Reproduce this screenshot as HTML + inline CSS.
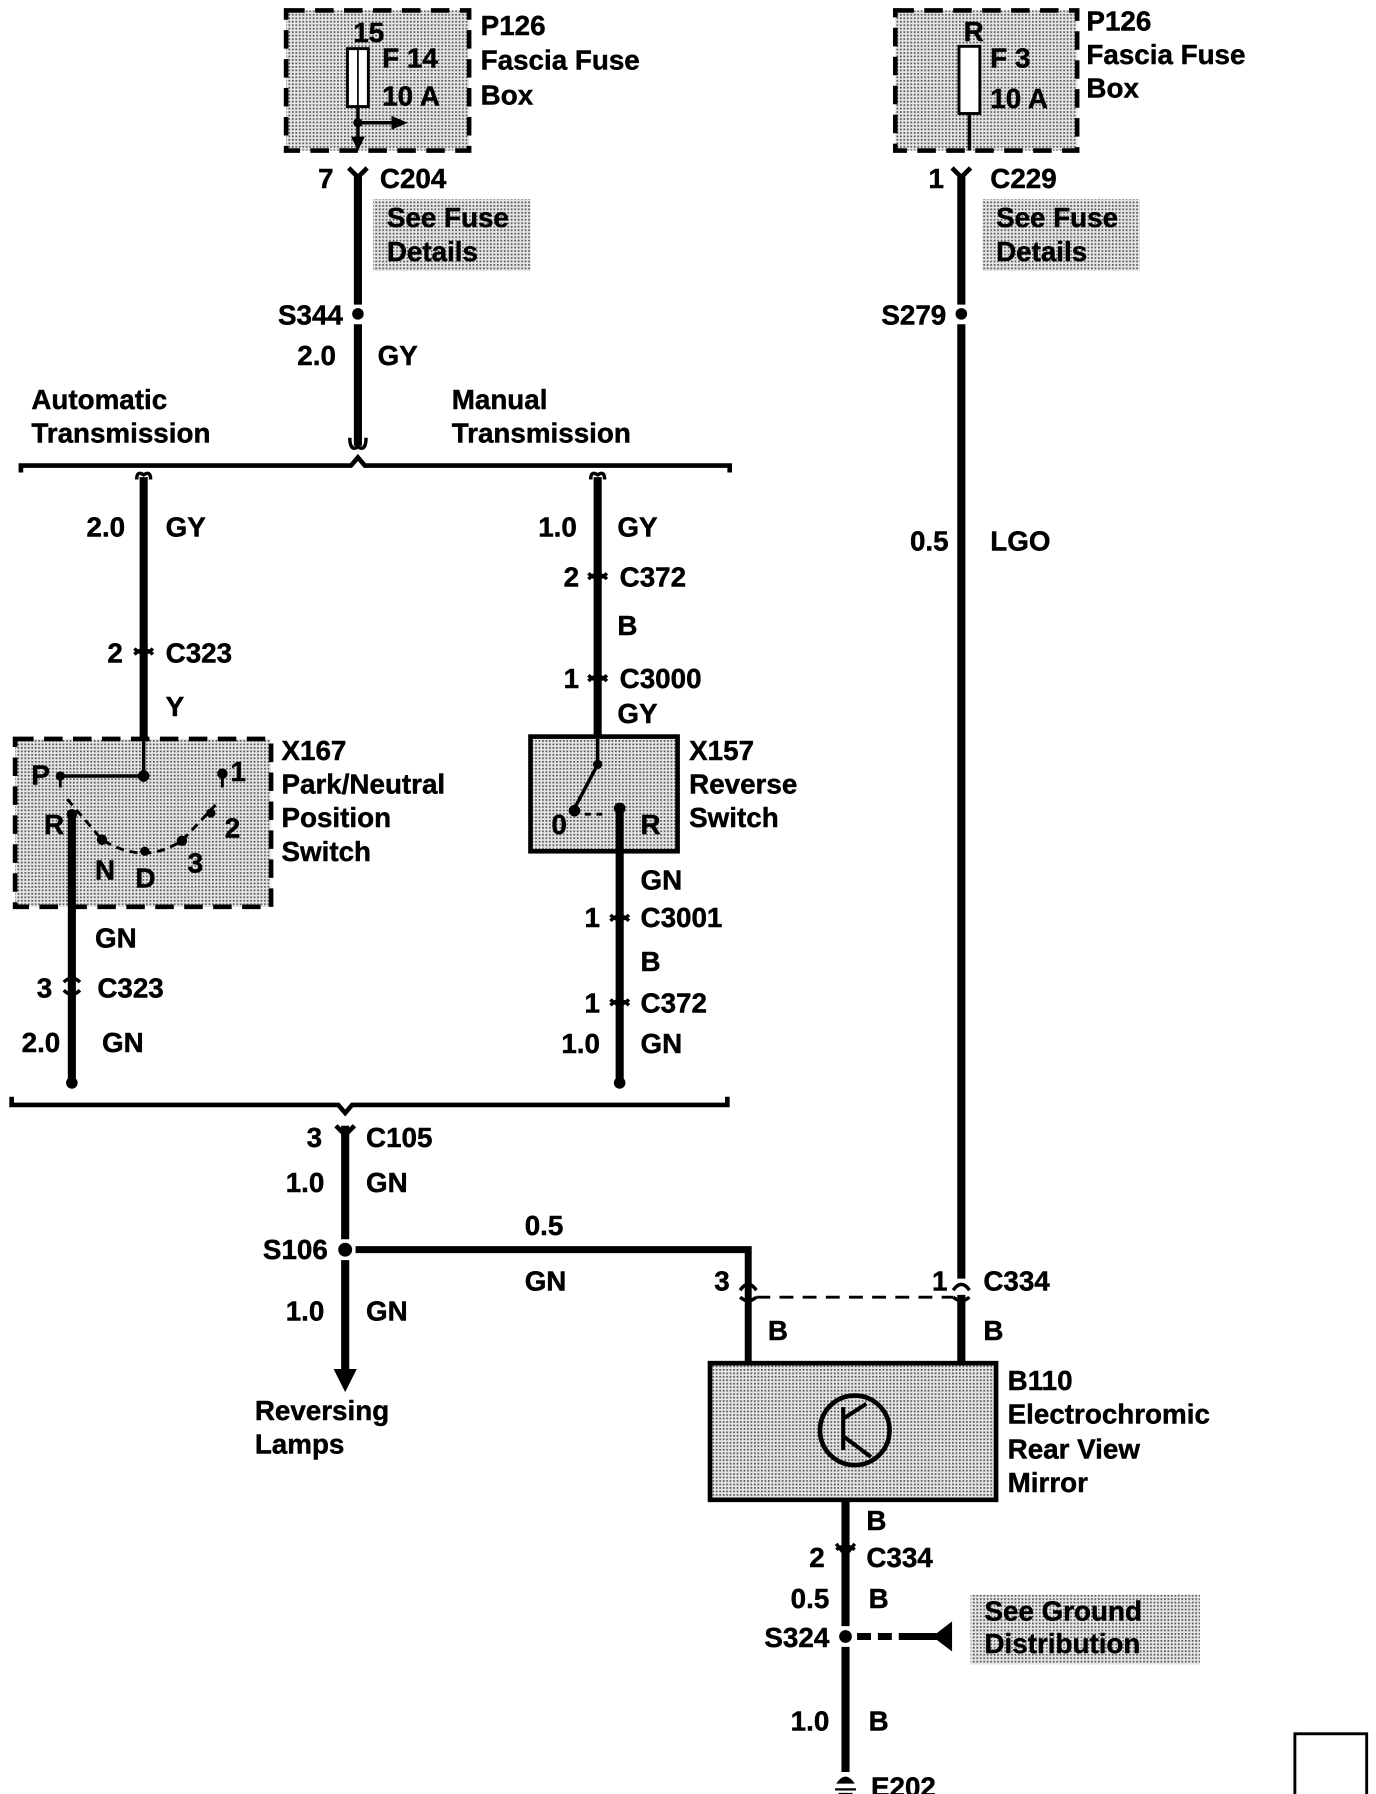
<!DOCTYPE html>
<html><head><meta charset="utf-8"><style>
html,body{margin:0;padding:0;background:#fff;}
svg{display:block;}
text{font-family:"Liberation Sans",Arial,sans-serif;font-weight:bold;font-size:24px;fill:#000;stroke:#000;stroke-width:0.4;dominant-baseline:central;}
.r{text-anchor:end;}
</style></head><body>
<svg width="1376" height="1794" viewBox="0 0 1188 1549" xmlns="http://www.w3.org/2000/svg">
<defs>
<pattern id="dots" width="3" height="3" patternUnits="userSpaceOnUse">
<rect width="3" height="3" fill="#e6e6e6"/><rect width="1.5" height="1.5" fill="#555"/>
</pattern>
</defs>
<g stroke="#000" fill="none">
<rect x="247" y="9" width="158" height="121" fill="url(#dots)" stroke-width="4" stroke-dasharray="16,9"/>
<rect x="300" y="42" width="18" height="50" fill="#fff" stroke-width="2.5"/>
<line x1="309" y1="42" x2="309" y2="92" stroke-width="1.5"/>
<line x1="309" y1="92" x2="309" y2="128" stroke-width="3"/>
<line x1="309" y1="106" x2="340" y2="106" stroke-width="3"/>
<rect x="773" y="9" width="157" height="121" fill="url(#dots)" stroke-width="4" stroke-dasharray="16,9"/>
<rect x="828" y="40" width="18" height="58" fill="#fff" stroke-width="2.5"/>
<line x1="837" y1="98" x2="837" y2="130" stroke-width="3"/>
<rect x="322" y="172" width="136" height="62" fill="url(#dots)" stroke="none"/>
<rect x="848" y="172" width="136" height="62" fill="url(#dots)" stroke="none"/>
<rect x="838" y="1377" width="198" height="60" fill="url(#dots)" stroke="none"/>
<path d="M309 152V263 M309 280V385" stroke-width="7"/>
<path d="M301 145L309 153L317 145" stroke-width="4"/>
<path d="M302 378q0 12 7 8q7 4 7-8" stroke-width="3"/>
<path d="M830 152V263 M830 280V1104 M830 1118V1178" stroke-width="7"/>
<path d="M822 145L830 153L838 145" stroke-width="4"/>
<path d="M18 408V402H303L309 395L315 402H630V408" stroke-width="4"/>
<path d="M124 412V640" stroke-width="7"/>
<path d="M118 414q0-8 6-4q6-4 6 4" stroke-width="3"/>
<path d="M116 565q8-8 16 0 M116 560q8 8 16 0" stroke-width="3"/>
<rect x="13" y="638" width="221" height="145" fill="url(#dots)" stroke-width="4" stroke-dasharray="16,9"/>
<line x1="124" y1="640" x2="124" y2="670" stroke-width="3"/>
<line x1="52" y1="670" x2="124" y2="670" stroke-width="3"/>
<path d="M52 670V680 M192 668V680" stroke-width="2.5"/>
<path d="M58 690L88 725Q125 748 158 725L186 695" stroke-width="2.5" stroke-dasharray="7,5"/>
<path d="M62 700V935" stroke-width="7"/>
<path d="M55 848q7-7 14 0 M55 855q7 7 14 0" stroke-width="3"/>
<path d="M516 412V636" stroke-width="7"/>
<path d="M510 414q0-8 6-4q6-4 6 4" stroke-width="3"/>
<path d="M508 500q8-8 16 0 M508 495q8 8 16 0" stroke-width="3"/>
<path d="M508 588q8-8 16 0 M508 583q8 8 16 0" stroke-width="3"/>
<rect x="458" y="636" width="127" height="99" fill="url(#dots)" stroke-width="4"/>
<path d="M516 638V660L496 698" stroke-width="3"/>
<path d="M505 703H525" stroke-width="2.5" stroke-dasharray="5,5"/>
<path d="M535 700V935" stroke-width="7"/>
<path d="M527 795q8-8 16 0 M527 790q8 8 16 0" stroke-width="3"/>
<path d="M527 868q8-8 16 0 M527 863q8 8 16 0" stroke-width="3"/>
<path d="M10 947V954H292L298 961L304 954H628V947" stroke-width="4"/>
<path d="M298 972V1070 M298 1088V1185" stroke-width="7"/>
<path d="M290 972L298 980L306 972" stroke-width="4"/>
<path d="M307 1079H646V1178" stroke-width="6"/>
<path d="M639 1114q7-10 14 0 M639 1120q7 6 14 0" stroke-width="3"/>
<path d="M823 1114q7-10 14 0 M823 1120q7 6 14 0" stroke-width="3"/>
<path d="M653 1120H823" stroke-width="2.5" stroke-dasharray="12,8"/>
<rect x="613" y="1177" width="247" height="118" fill="url(#dots)" stroke-width="4"/>
<circle cx="738" cy="1235" r="30" stroke-width="4" fill="none"/>
<path d="M728 1215V1252 M728 1225L748 1212 M728 1240L752 1258" stroke-width="3.5"/>
<path d="M730 1295V1404 M730 1422V1530" stroke-width="7"/>
<path d="M722 1333l8 10l8-10 M722 1338q8-6 16 0" stroke-width="3"/>
<path d="M740 1413H800" stroke-width="6" stroke-dasharray="12,6"/>
<path d="M780 1413H810" stroke-width="6"/>
<path d="M721 1545H739 M724 1549H736" stroke-width="2"/>
<rect x="1118" y="1497" width="62" height="63" stroke-width="2.5"/>
</g>
<g fill="#000">
<circle cx="309" cy="106" r="4"/>
<path d="M338 100L352 106L338 112Z"/>
<path d="M303 118L309 130L315 118Z"/>
<circle cx="309" cy="271" r="5"/>
<circle cx="830" cy="271" r="5"/>
<circle cx="52" cy="670" r="4"/><circle cx="124" cy="670" r="5"/>
<circle cx="192" cy="668" r="4.5"/><circle cx="62" cy="703" r="4.5"/>
<circle cx="88" cy="725" r="4.5"/><circle cx="125" cy="735" r="4"/>
<circle cx="157" cy="726" r="4.5"/><circle cx="182" cy="702" r="4"/>
<circle cx="62" cy="935" r="5"/><circle cx="535" cy="935" r="5"/>
<circle cx="516" cy="660" r="4"/><circle cx="496" cy="700" r="5"/><circle cx="535" cy="698" r="5"/>
<circle cx="298" cy="1079" r="6"/>
<path d="M288 1182L308 1182L298 1202Z"/>
<circle cx="730" cy="1413" r="5.5"/>
<path d="M805 1413L822 1400L822 1426Z"/>
<path d="M722 1540Q730 1528 738 1540Z"/>
</g>
<g>
<text x="305" y="28">15</text>
<text x="330" y="50">F 14</text>
<text x="330" y="83">10 A</text>
<text x="415" y="22">P126</text>
<text x="415" y="52">Fascia Fuse</text>
<text x="415" y="82">Box</text>
<text x="288" y="154" class="r">7</text>
<text x="328" y="154">C204</text>
<text x="334" y="188">See Fuse</text>
<text x="334" y="217">Details</text>
<text x="296" y="272" class="r">S344</text>
<text x="290" y="307" class="r">2.0</text>
<text x="326" y="307">GY</text>
<text x="27" y="345">Automatic</text>
<text x="27" y="374">Transmission</text>
<text x="390" y="345">Manual</text>
<text x="390" y="374">Transmission</text>
<text x="832" y="27">R</text>
<text x="855" y="50">F 3</text>
<text x="855" y="85">10 A</text>
<text x="938" y="18">P126</text>
<text x="938" y="47">Fascia Fuse</text>
<text x="938" y="76">Box</text>
<text x="815" y="154" class="r">1</text>
<text x="855" y="154">C229</text>
<text x="860" y="188">See Fuse</text>
<text x="860" y="217">Details</text>
<text x="817" y="272" class="r">S279</text>
<text x="819" y="467" class="r">0.5</text>
<text x="855" y="467">LGO</text>
<text x="108" y="455" class="r">2.0</text>
<text x="143" y="455">GY</text>
<text x="106" y="564" class="r">2</text>
<text x="143" y="564">C323</text>
<text x="143" y="610">Y</text>
<text x="243" y="648">X167</text>
<text x="243" y="677">Park/Neutral</text>
<text x="243" y="706">Position</text>
<text x="243" y="735">Switch</text>
<text x="27" y="669">P</text>
<text x="199" y="666">1</text>
<text x="38" y="712">R</text>
<text x="194" y="715">2</text>
<text x="82" y="751">N</text>
<text x="117" y="758">D</text>
<text x="162" y="745">3</text>
<text x="82" y="810">GN</text>
<text x="45" y="853" class="r">3</text>
<text x="84" y="853">C323</text>
<text x="52" y="900" class="r">2.0</text>
<text x="88" y="900">GN</text>
<text x="498" y="455" class="r">1.0</text>
<text x="533" y="455">GY</text>
<text x="500" y="498" class="r">2</text>
<text x="535" y="498">C372</text>
<text x="533" y="540">B</text>
<text x="500" y="586" class="r">1</text>
<text x="535" y="586">C3000</text>
<text x="533" y="616">GY</text>
<text x="595" y="648">X157</text>
<text x="595" y="677">Reverse</text>
<text x="595" y="706">Switch</text>
<text x="476" y="712">0</text>
<text x="553" y="712">R</text>
<text x="553" y="760">GN</text>
<text x="518" y="792" class="r">1</text>
<text x="553" y="792">C3001</text>
<text x="553" y="830">B</text>
<text x="518" y="866" class="r">1</text>
<text x="553" y="866">C372</text>
<text x="518" y="901" class="r">1.0</text>
<text x="553" y="901">GN</text>
<text x="278" y="982" class="r">3</text>
<text x="316" y="982">C105</text>
<text x="280" y="1021" class="r">1.0</text>
<text x="316" y="1021">GN</text>
<text x="283" y="1079" class="r">S106</text>
<text x="280" y="1132" class="r">1.0</text>
<text x="316" y="1132">GN</text>
<text x="220" y="1218">Reversing</text>
<text x="220" y="1247">Lamps</text>
<text x="453" y="1058">0.5</text>
<text x="453" y="1106">GN</text>
<text x="630" y="1106" class="r">3</text>
<text x="818" y="1106" class="r">1</text>
<text x="849" y="1106">C334</text>
<text x="663" y="1149">B</text>
<text x="849" y="1149">B</text>
<text x="870" y="1192">B110</text>
<text x="870" y="1221">Electrochromic</text>
<text x="870" y="1251">Rear View</text>
<text x="870" y="1280">Mirror</text>
<text x="748" y="1313">B</text>
<text x="712" y="1345" class="r">2</text>
<text x="748" y="1345">C334</text>
<text x="716" y="1380" class="r">0.5</text>
<text x="750" y="1380">B</text>
<text x="716" y="1414" class="r">S324</text>
<text x="850" y="1391">See Ground</text>
<text x="850" y="1419">Distribution</text>
<text x="716" y="1486" class="r">1.0</text>
<text x="750" y="1486">B</text>
<text x="752" y="1543">E202</text>
</g>
</svg>
</body></html>
